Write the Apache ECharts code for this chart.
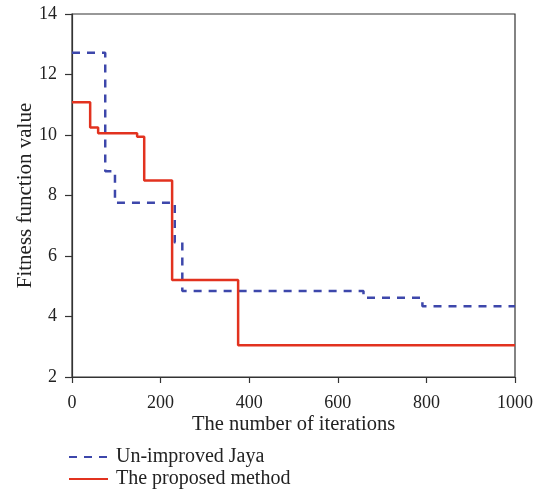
<!DOCTYPE html>
<html><head><meta charset="utf-8">
<script src="https://cdn.jsdelivr.net/npm/echarts@6/dist/echarts.min.js"></script>
<style>html,body{margin:0;padding:0;background:#fff}#c{width:547px;height:492px}</style>
</head><body><div id="c"></div>
<script>
// Step data: [iteration, fitness] – each value holds until the next point
const jayaX = [0, 75, 97, 232, 249, 658, 791, 1000];
const jayaY = [12.72, 8.8, 7.76, 6.45, 4.84, 4.62, 4.34, 4.34];
const propX = [0, 41, 59, 147, 163, 226, 375, 1000];
const propY = [11.08, 10.25, 10.06, 9.94, 8.5, 5.21, 3.05, 3.05];
const seriesNames = ['Un-improved Jaya', 'The proposed method'];
const xTicks = [0, 200, 400, 600, 800, 1000];
const yTicks = [2, 4, 6, 8, 10, 12, 14];

const font = 'Liberation Serif';
const pair = (xs, ys) => xs.map((x, i) => [x, ys[i]]);
const chart = echarts.init(document.getElementById('c'), null, {renderer: 'canvas'});
const axisCol = '#333';
const legendBase = {
  orient: 'vertical', left: 63, itemWidth: 39, itemHeight: 14,
  textStyle: {fontFamily: font, fontSize: 20, color: '#222', padding: [0, 0, 0, 3]},
  itemStyle: {opacity: 0}
};
chart.setOption({
  animation: false,
  textStyle: {fontFamily: font},
  grid: {left: 72, right: 32, top: 14, bottom: 115, show: true, borderColor: axisCol, borderWidth: 1.2},
  xAxis: {
    type: 'value', min: xTicks[0], max: xTicks[xTicks.length - 1], interval: xTicks[1] - xTicks[0],
    name: 'The number of iterations', nameLocation: 'middle', nameGap: 37, nameMoveOverlap: false,
    nameTextStyle: {fontFamily: font, fontSize: 20.5, color: '#222'},
    axisLine: {show: true, lineStyle: {color: axisCol, width: 1.2}},
    axisTick: {show: true, inside: false, length: 6, lineStyle: {color: axisCol, width: 1.2}},
    axisLabel: {fontFamily: font, fontSize: 18, color: '#222', margin: 17, formatter: v => String(v)},
    splitLine: {show: false}
  },
  yAxis: {
    type: 'value', min: yTicks[0], max: yTicks[yTicks.length - 1], interval: yTicks[1] - yTicks[0],
    name: 'Fitness function value', nameLocation: 'middle', nameGap: 36, nameMoveOverlap: false,
    nameTextStyle: {fontFamily: font, fontSize: 21, color: '#222'},
    axisLine: {show: true, lineStyle: {color: axisCol, width: 1.2}},
    axisTick: {show: true, inside: false, length: 7, lineStyle: {color: axisCol, width: 1.2}},
    axisLabel: {fontFamily: font, fontSize: 18, color: '#222', margin: 15},
    splitLine: {show: false}
  },
  legend: [
    Object.assign({}, legendBase, {top: 442, data: [seriesNames[0]]}),
    Object.assign({}, legendBase, {top: 464, data: [seriesNames[1]]})
  ],
  series: [
    {name: seriesNames[0], type: 'line', step: 'end', symbol: 'none',
     data: pair(jayaX, jayaY),
     lineStyle: {color: '#3d47ab', width: 2.5, type: [8, 7]}, itemStyle: {color: '#3d47ab'}},
    {name: seriesNames[1], type: 'line', step: 'end', symbol: 'none',
     data: pair(propX, propY),
     lineStyle: {color: '#e2321f', width: 2.5}, itemStyle: {color: '#e2321f'}}
  ]
});
</script></body></html>
